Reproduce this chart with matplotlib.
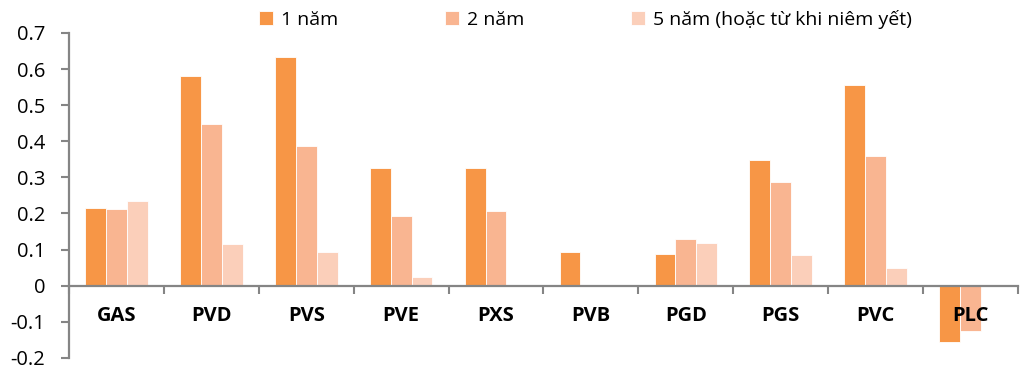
import matplotlib
matplotlib.use("Agg")
import matplotlib.pyplot as plt
import numpy as np

# data
tickers = ["GAS", "PVD", "PVS", "PVE", "PXS", "PVB", "PGD", "PGS", "PVC", "PLC"]
ret_1y = [0.215, 0.581, 0.633, 0.326, 0.326, 0.092, 0.088, 0.349, 0.556, -0.156]
ret_2y = [0.212, 0.448, 0.388, 0.193, 0.207, 0.0, 0.130, 0.286, 0.358, -0.127]
ret_5y = [0.233, 0.115, 0.092, 0.024, 0.003, 0.0, 0.119, 0.085, 0.050, 0.0]
series_names = ["1 năm", "2 năm", "5 năm (hoặc từ khi niêm yết)"]
y_ticks = [-0.2, -0.1, 0, 0.1, 0.2, 0.3, 0.4, 0.5, 0.6, 0.7]
y_labels = ["-0.2", "-0.1", "0", "0.1", "0.2", "0.3", "0.4", "0.5", "0.6", "0.7"]

colors = ["#F79646", "#F9B591", "#FBCFBA"]
grey = "#858585"

plt.rcParams['font.family'] = ["Open Sans", "DejaVu Sans"]

fig = plt.figure(figsize=(10.21, 3.70), dpi=100)
ax = fig.add_axes([0.0676, 0.033, 0.9294, 0.878])

x = np.arange(len(tickers))
w = 0.22
for i, vals in enumerate([ret_1y, ret_2y, ret_5y]):
    ax.bar(x + (i - 1) * w, vals, width=w, color=colors[i],
           edgecolor="white", linewidth=0.6, label=series_names[i], zorder=1)

ax.set_xlim(-0.5, len(tickers) - 0.5)
ax.set_ylim(-0.2, 0.7)

for s in ["top", "right"]:
    ax.spines[s].set_visible(False)
ax.spines["bottom"].set_position(("data", 0))
for s in ["left", "bottom"]:
    ax.spines[s].set_color(grey)
    ax.spines[s].set_linewidth(1.6)

ax.set_yticks(y_ticks)
ax.set_yticklabels(y_labels, fontsize=14.5)
ax.tick_params(axis="y", length=6, width=1.5, color=grey, pad=11)

ax.set_xticks(x)
ax.set_xticklabels(tickers, fontsize=14.5, fontweight="bold")
ax.set_xticks(np.arange(len(tickers) + 1) - 0.5, minor=True)
ax.tick_params(axis="x", which="major", length=0, pad=15)
ax.tick_params(axis="x", which="minor", length=6, width=1.5, color=grey)

fig.legend(loc="center left", bbox_to_anchor=(0.254, 0.948), ncol=3,
           frameon=False, fontsize=14, handlelength=0.72, handleheight=0.72,
           handletextpad=0.4, columnspacing=5.5, borderaxespad=0, borderpad=0)

fig.savefig("out.png", dpi=100)
